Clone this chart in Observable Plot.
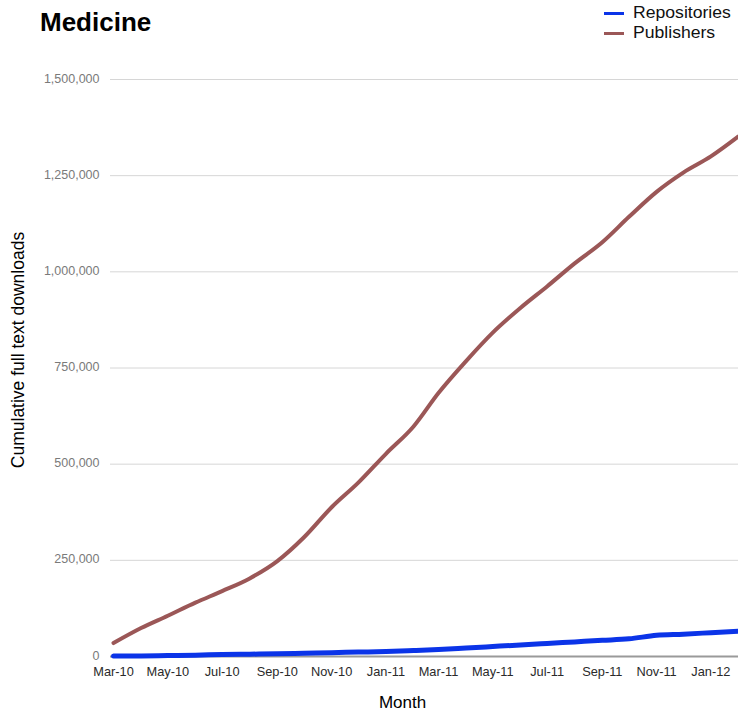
<!DOCTYPE html>
<html>
<head>
<meta charset="utf-8">
<script src="https://cdn.jsdelivr.net/npm/d3@7"></script>
<script src="https://cdn.jsdelivr.net/npm/@observablehq/plot@0.6"></script>
<style>
  html, body { margin: 0; padding: 0; background: #fff; }
  body { width: 738px; height: 712px; position: relative; overflow: hidden; font-family: "Liberation Sans", Arial, Helvetica, sans-serif; }
  #chart { position: absolute; left: 0; top: 0; }
  #title { position: absolute; left: 40px; top: 9px; font-size: 26px; font-weight: bold; line-height: 1; color: #000; }
  .leg { position: absolute; left: 604px; height: 18px; display: flex; align-items: center; font-size: 16px; color: #111; white-space: nowrap; }
  .leg .sw { width: 20px; height: 3px; margin-right: 9px; }
  .leg span.t { display: inline-block; transform: scaleX(1.1); transform-origin: left center; }
</style>
</head>
<body>
<div id="chart"></div>
<div id="title">Medicine</div>
<div class="leg" style="top:4px"><div class="sw" style="background:#0b34e8"></div><span class="t">Repositories</span></div>
<div class="leg" style="top:24px"><div class="sw" style="background:#9b5757"></div><span class="t">Publishers</span></div>
<script>
// Months (Mar-10 .. Feb-12)
const months = ["2010-03","2010-04","2010-05","2010-06","2010-07","2010-08","2010-09","2010-10","2010-11","2010-12",
                "2011-01","2011-02","2011-03","2011-04","2011-05","2011-06","2011-07","2011-08","2011-09","2011-10","2011-11","2011-12",
                "2012-01","2012-02"];
const publishers = [35000, 74000, 106000, 140000, 170000, 203000, 248000, 310000, 388000, 452000,
                    527000, 598000, 685000, 768000, 842000, 906000, 962000, 1022000, 1077000, 1143000, 1208000, 1258000,
                    1300000, 1352000];
const repositories = [1000, 1500, 2500, 3500, 5000, 6000, 7000, 8500, 10000, 11500,
                      13000, 15500, 18000, 22000, 26000, 30000, 34000, 38000, 42000, 46000, 55000, 58000,
                      62000, 66000];
const yTicks = [0, 250000, 500000, 750000, 1000000, 1250000, 1500000];
const xTickMonths = ["2010-03","2010-05","2010-07","2010-09","2010-11","2011-01","2011-03","2011-05","2011-07","2011-09","2011-11","2012-01"];
const seriesNames = ["Repositories", "Publishers"];
const seriesColors = ["#0b34e8", "#9b5757"];

const parse = s => { const [y, m] = s.split("-").map(Number); return new Date(Date.UTC(y, m - 1, 1)); };
const dates = months.map(parse);
const rows = [];
months.forEach((m, i) => {
  rows.push({date: dates[i], value: repositories[i], series: seriesNames[0]});
  rows.push({date: dates[i], value: publishers[i], series: seriesNames[1]});
});
const pubRows = rows.filter(d => d.series === "Publishers");
const repRows = rows.filter(d => d.series === "Repositories");

const chart = Plot.plot({
  width: 738,
  height: 712,
  marginTop: 79,
  marginBottom: 56,
  marginLeft: 110,
  marginRight: 0,
  style: {fontFamily: "'Liberation Sans', Arial, Helvetica, sans-serif", background: "transparent"},
  x: {type: "utc", domain: [dates[0], dates[dates.length - 1]], insetLeft: 3},
  y: {domain: [0, 1500000]},
  marks: [
    Plot.gridY(yTicks.slice(1), {stroke: "#d6d6d6", strokeOpacity: 1, strokeWidth: 1}),
    Plot.ruleY([0], {stroke: "#9a9a9a", strokeWidth: 2}),
    Plot.axisY({ticks: yTicks, tickSize: 0, tickPadding: 11, tickFormat: d3.format(","), fontSize: 12.5, fill: "#7a7a7a", label: null, dy: -1}),
    Plot.axisX({ticks: xTickMonths.map(parse), tickSize: 0, tickPadding: 10, tickFormat: d3.utcFormat("%b-%y"), fontSize: 12.8, fill: "#2a2a2a", label: null}),
    Plot.lineY(pubRows, {x: "date", y: "value", stroke: seriesColors[1], strokeWidth: 4, curve: "monotone-x"}),
    Plot.lineY(repRows, {x: "date", y: "value", stroke: seriesColors[0], strokeWidth: 5, curve: "monotone-x"}),
    Plot.text(["Month"], {frameAnchor: "bottom", dx: -22, dy: 51, fontSize: 17, fill: "#000"}),
    Plot.text(["Cumulative full text downloads"], {frameAnchor: "left", textAnchor: "middle", rotate: -90, dx: -92, dy: -18, fontSize: 17.5, fill: "#000"})
  ]
});
document.getElementById("chart").appendChild(chart);
</script>
</body>
</html>
